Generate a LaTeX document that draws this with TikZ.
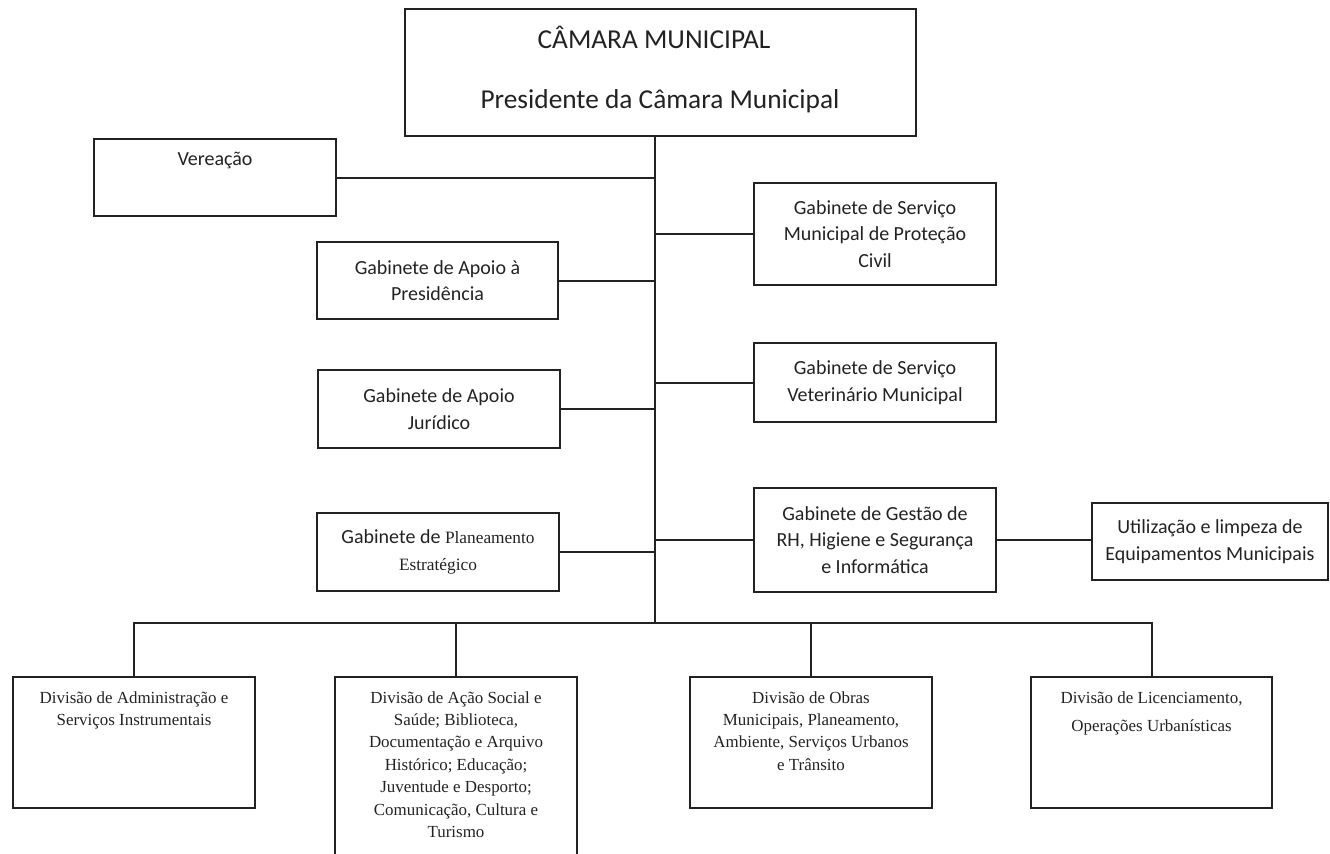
\documentclass[tikz,border=0pt]{standalone}
\usepackage{fontspec}
\setmainfont{Liberation Serif}
\newfontfamily\calib{Carlito}
\usetikzlibrary{calc}
\definecolor{ink}{HTML}{222222}
\tikzset{
  box/.style={draw=ink, line width=1.5pt, rectangle, inner sep=0pt, align=center, text=ink},
  sz/.style 2 args={minimum width=#1*0.75pt, minimum height=#2*0.75pt},
  lnk/.style={draw=ink, line width=1.5pt},
  gab/.style={font=\calib\fontsize{15}{20}\selectfont},
  div/.style={font=\fontsize{12.7}{16.8}\selectfont, align=center, inner sep=0pt, text=ink, anchor=north},
  big/.style={font=\calib\fontsize{20.5}{24}\selectfont, text=ink, inner sep=0pt}
}
\begin{document}
\begin{tikzpicture}[x=0.75pt,y=-0.75pt]
\useasboundingbox (0,0) rectangle (1330,853);
\clip (0,0) rectangle (1330,853);
% top
\node[box, sz={511}{127}] (top) at (660.5,72.5) {};
\node[big] (t1) at (654,37) {CÂMARA MUNICIPAL};
\node[big] (t2) at (660,101) {Presidente da Câmara Municipal};
% left column
\node[box, sz={242}{77}] (ver) at (215,177.5) {};
\node[gab, inner sep=0pt, anchor=north, text=ink] (vert) at ($(ver.north)+(0,14)$) {Vereação};
\node[box, gab, sz={241}{77}] (pres) at (437.5,280.5) {Gabinete de Apoio à\\Presidência};
\node[box, gab, sz={242}{78}] (jur) at (439,409) {Gabinete de Apoio\\Jurídico};
\node[box, gab, sz={242}{78}] (plan) at (438,552) {Gabinete de {\fontspec{Liberation Serif}\fontsize{13}{20}\selectfont Planeamento}\\{\fontspec{Liberation Serif}\fontsize{13}{20}\selectfont Estratégico}};
% right column
\node[box, gab, sz={242}{102}] (prot) at (875,234) {Gabinete de Serviço\\Municipal de Proteção\\Civil};
\node[box, gab, sz={242}{79}] (vet) at (875,382.5) {Gabinete de Serviço\\Veterinário Municipal};
\node[box, gab, sz={242}{104}] (rh) at (875,540) {Gabinete de Gestão de\\RH, Higiene e Segurança\\e Informática};
\node[box, gab, sz={236}{77}] (util) at (1210,541.5) {Utilização e limpeza de\\Equipamentos Municipais};
% divisions
\node[box, sz={242}{131}] (d1) at (134,742.5) {};
\node[box, sz={242}{193}] (d2) at (456,773.5) {};
\node[box, sz={242}{131}] (d3) at (811,742.5) {};
\node[box, sz={241}{131}] (d4) at (1151.5,742.5) {};
\node[div] (d1t) at ($(d1.north)+(0,15)$) {Divisão de Administração e\\Serviços Instrumentais};
\node[div] (d2t) at ($(d2.north)+(0,15)$) {Divisão de Ação Social e\\Saúde; Biblioteca,\\Documentação e Arquivo\\Histórico; Educação;\\Juventude e Desporto;\\Comunicação, Cultura e\\Turismo};
\node[div] (d3t) at ($(d3.north)+(0,15)$) {Divisão de Obras\\Municipais, Planeamento,\\Ambiente, Serviços Urbanos\\e Trânsito};
\node[div, font=\fontsize{12.7}{21.5}\selectfont] (d4t) at ($(d4.north)+(0,15)$) {Divisão de Licenciamento,\\Operações Urbanísticas};
% connectors
\coordinate (bus) at (655,623);
\draw[lnk] (bus |- top.south) -- (bus);
\draw[lnk] (ver.east) -- (ver.east -| bus);
\draw[lnk] (pres.east) -- (pres.east -| bus);
\draw[lnk] (jur.east) -- (jur.east -| bus);
\draw[lnk] (plan.east) -- (plan.east -| bus);
\draw[lnk] (prot.west) -- (prot.west -| bus);
\draw[lnk] (vet.west) -- (vet.west -| bus);
\draw[lnk] (rh.west) -- (rh.west -| bus);
\draw[lnk] (rh.east) -- (rh.east -| util.west);
\draw[lnk] (d1.north) -- (d1.north |- bus) -- (d4.north |- bus) -- (d4.north);
\draw[lnk] (d2.north) -- (d2.north |- bus);
\draw[lnk] (d3.north) -- (d3.north |- bus);
\end{tikzpicture}
\end{document}
